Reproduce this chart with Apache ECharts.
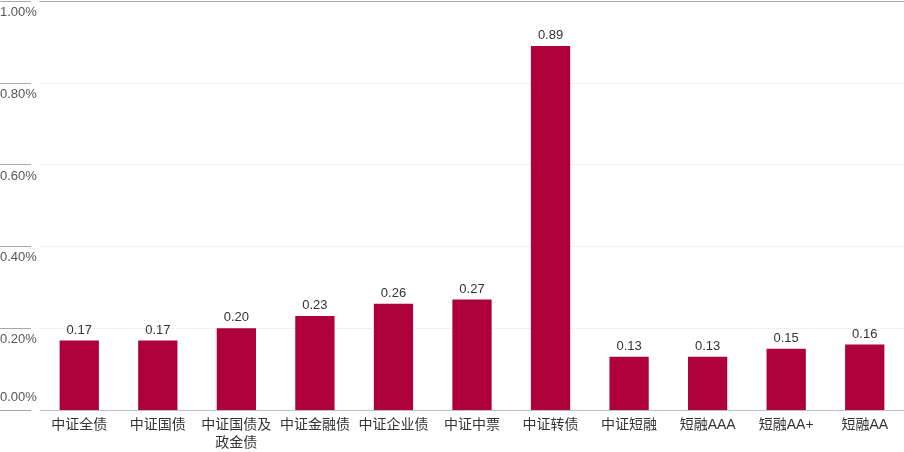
<!DOCTYPE html>
<html><head><meta charset="utf-8">
<script src="https://cdn.jsdelivr.net/npm/echarts@6/dist/echarts.min.js"></script>
<style>html,body{margin:0;padding:0;background:#fff}#c{width:904px;height:452px}</style>
</head><body><div id="c"></div>
<script>
const categories = ['中证全债','中证国债','中证国债及\n政金债','中证金融债','中证企业债','中证中票','中证转债','中证短融','短融AAA','短融AA+','短融AA'];
const values = [0.17,0.17,0.20,0.23,0.26,0.27,0.89,0.13,0.13,0.15,0.16];
const yMin = 0, yMax = 1.0, yStep = 0.2;

const numFont = "'Liberation Sans','Noto Sans CJK SC',sans-serif";
const cjkFont = "'Liberation Sans','Noto Sans CJK SC',sans-serif";
const chart = echarts.init(document.getElementById('c'));
chart.setOption({
  animation:false,
  grid:{left:40,right:0,top:1,bottom:42,outerBoundsMode:'none',containLabel:false},
  xAxis:[{
    type:'category', data:categories,
    axisLine:{show:true,lineStyle:{color:'#c0c0c0',width:1}},
    axisTick:{show:false},
    axisLabel:{color:'#333',fontSize:14,fontFamily:cjkFont,margin:6,lineHeight:18,interval:0}
  },{
    type:'category', data:categories, position:'top',
    axisLine:{show:true,onZero:false,lineStyle:{color:'#a8a8a8',width:1}},
    axisTick:{show:false}, axisLabel:{show:false}
  }],
  yAxis:[{
    type:'value', min:yMin, max:yMax, interval:yStep,
    axisLine:{show:false}, axisTick:{show:false},
    splitLine:{show:true,showMinLine:false,showMaxLine:false,lineStyle:{color:'#e4e4e4',type:'dotted'}},
    axisLabel:{
      color:'#555',fontSize:13,fontFamily:numFont,align:'left',margin:40,
      verticalAlign:'top',padding:[5,0,0,0],
      formatter:v=> v===0 ? '' : v.toFixed(2)+'%'
    }
  },{
    type:'value', min:yMin, max:yMax, interval:yStep, position:'left', offset:9,
    axisLine:{show:false},
    axisTick:{show:true,length:31,lineStyle:{color:'#a8a8a8'}},
    splitLine:{show:false},
    axisLabel:{
      color:'#555',fontSize:13,fontFamily:numFont,align:'left',margin:31,
      verticalAlign:'bottom',padding:[0,0,6,0],
      formatter:v=> v===0 ? v.toFixed(2)+'%' : ''
    }
  }],
  series:[{
    type:'bar', data:values, barWidth:'50%',
    itemStyle:{color:'#ae003a'},
    label:{show:true,position:'top',distance:4,color:'#333',fontSize:13,fontFamily:numFont,
      formatter:p=>p.value.toFixed(2)}
  }]
});
</script></body></html>
